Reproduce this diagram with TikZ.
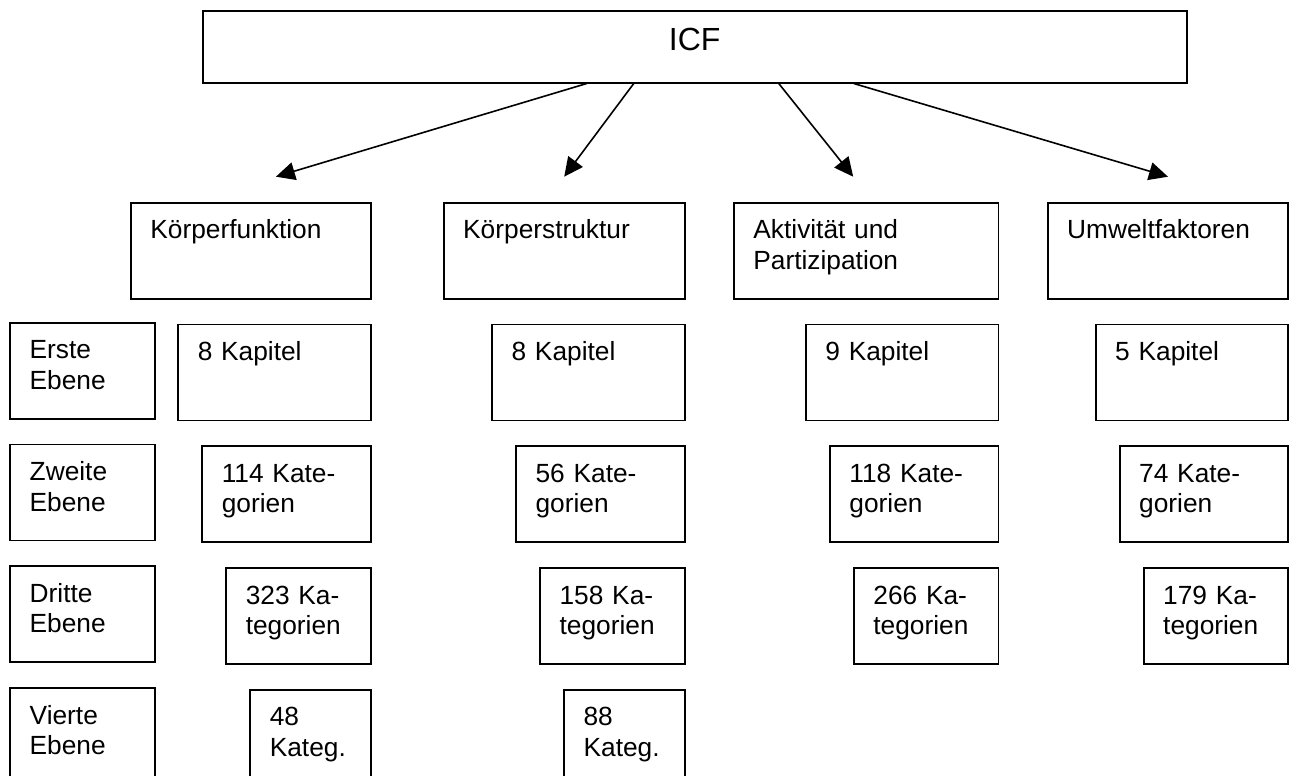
\documentclass[tikz,border=0pt]{standalone}
\usepackage{fontspec}
\setmainfont{Liberation Sans}
\usetikzlibrary{shapes,arrows.meta,positioning}
\begin{document}
\begin{tikzpicture}[x=1pt, y=-1pt]
    % Define Styles
        \tikzstyle{block} = [
            rectangle,
            draw,
            fill=white,
            align = left,
            anchor = north west,
            line width = 1.8pt,
            inner xsep = 19.5pt,
            inner ysep = 0pt,
            text height = 36pt,
            text depth = 60pt,
            font = \fontsize{26.3}{30.7}\selectfont
        ]
        \tikzstyle{top} = [
            rectangle,
            draw,
            anchor = north west,
            line width = 1.8pt,
            minimum width = 984.3pt,
            inner sep = 0pt,
            text height = 40pt,
            text depth = 31.7pt,
            font = \fontsize{32}{38}\selectfont
        ]
        \tikzstyle{line} = [
            draw,
            line width = 1.6pt,
            -{Triangle[length=19pt, width=18pt]}
        ]
    \useasboundingbox (0,0) rectangle (1290,776);
    \clip (0,0) rectangle (1290,776);
    % Place nodes
        \node [top] (0) at (201.7,10) {ICF};
        \node [block, text width=201pt] (1) at (130,201.7) {Körperfunktion};
        \node [block, text width=202pt, right = 71pt of 1] (2) {Körperstruktur};
        \node [block, text width=225.6pt, right = 47.4pt of 2] (3) {%
            Aktivität und \\
            Partizipation
        };
        \node [block, text width=201.6pt, right = 47.4pt of 3] (4) {Umweltfaktoren};
    % Levels
        \node [block, text width=105.7pt] (e1) at (9.3,321.7) {Erste \\ Ebene};
        \node [block, text width=105.7pt, below = 24pt of e1] (e2) {Zweite \\ Ebene};
        \node [block, text width=105.7pt, below = 24pt of e2] (e3) {Dritte \\ Ebene};
        \node [block, text width=105.7pt, below = 24pt of e3] (e4) {Vierte \\ Ebene};
    % Körperfunktion
        \node [block, text width=153.6pt, below = 24pt of 1.south east, anchor=north east] (1a) {8 Kapitel};
        \node [block, text width=129.6pt, below = 24pt of 1a.south east, anchor=north east] (1b) {114 Kate- \\ gorien};
        \node [block, text width=105.6pt, below = 24pt of 1b.south east, anchor=north east] (1c) {323 Ka- \\ tegorien};
        \node [block, text width=81.6pt, below = 24pt of 1c.south east, anchor=north east] (1d) {48 \\ Kateg.};
    % Körperstruktur
        \node [block, text width=153.6pt, below = 24pt of 2.south east, anchor=north east] (2a) {8 Kapitel};
        \node [block, text width=129.6pt, below = 24pt of 2a.south east, anchor=north east] (2b) {56 Kate- \\ gorien};
        \node [block, text width=105.6pt, below = 24pt of 2b.south east, anchor=north east] (2c) {158 Ka- \\ tegorien};
        \node [block, text width=81.6pt, below = 24pt of 2c.south east, anchor=north east] (2d) {88 \\ Kateg.};
    % Aktivität und Partizipation
        \node [block, text width=153.6pt, below = 24pt of 3.south east, anchor=north east] (3a) {9 Kapitel};
        \node [block, text width=129.6pt, below = 24pt of 3a.south east, anchor=north east] (3b) {118 Kate- \\ gorien};
        \node [block, text width=105.6pt, below = 24pt of 3b.south east, anchor=north east] (3c) {266 Ka- \\ tegorien};
    % Umweltfaktoren
        \node [block, text width=153.6pt, below = 24pt of 4.south east, anchor=north east] (4a) {5 Kapitel};
        \node [block, text width=129.6pt, below = 24pt of 4a.south east, anchor=north east] (4b) {74 Kate- \\ gorien};
        \node [block, text width=105.6pt, below = 24pt of 4b.south east, anchor=north east] (4c) {179 Ka- \\ tegorien};
    % Draw edges
        \path [line] ([xshift=-108pt]0.south) -- ([xshift=25pt, yshift=25pt]1.north);
        \path [line] ([xshift=-61pt]0.south) -- ([yshift=25pt]2.north);
        \path [line] ([xshift=84pt]0.south) -- ([xshift=-13pt, yshift=25pt]3.north);
        \path [line] ([xshift=159pt]0.south) -- ([yshift=25pt]4.north);
\end{tikzpicture}
\end{document}
